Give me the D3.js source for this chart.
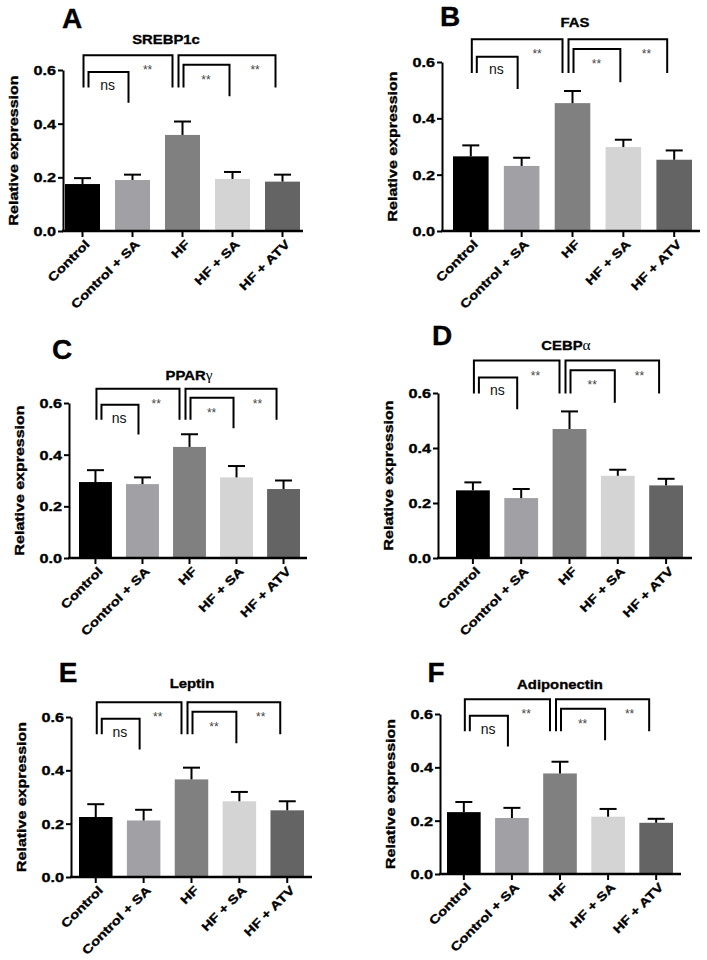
<!DOCTYPE html>
<html>
<head>
<meta charset="utf-8">
<script src="https://cdn.jsdelivr.net/npm/d3@7"></script>
<style>
  body { margin: 0; background: #fff; }
  svg text { font-family: "Liberation Sans", Arial, sans-serif; }
</style>
</head>
<body>
<svg id="fig" width="707" height="960"></svg>
<script>
// groups on the x axis
var groups = ["Control", "Control + SA", "HF", "HF + SA", "HF + ATV"]
var panelLetters = ["A", "B", "C", "D", "E", "F"]
var geneNames = ["SREBP1c", "FAS", "PPAR", "CEBP", "Leptin", "Adiponectin"]
var geneGreek = ["", "", "\u03b3", "\u03b1", "", ""]

// mean relative expression, one row per panel
var meanValues = [
    [0.175, 0.190, 0.358, 0.194, 0.184],
    [0.265, 0.231, 0.454, 0.298, 0.253],
    [0.294, 0.286, 0.430, 0.312, 0.267],
    [0.246, 0.218, 0.469, 0.299, 0.264],
    [0.225, 0.212, 0.366, 0.284, 0.250],
    [0.232, 0.210, 0.377, 0.215, 0.192]
]
// upper error (SEM)
var semValues = [
    [0.022, 0.020, 0.050, 0.026, 0.026],
    [0.039, 0.029, 0.043, 0.026, 0.033],
    [0.046, 0.026, 0.049, 0.044, 0.033],
    [0.029, 0.033, 0.064, 0.022, 0.024],
    [0.048, 0.040, 0.044, 0.035, 0.034],
    [0.038, 0.038, 0.044, 0.029, 0.015]
]
var yTicks = [0, 0.2, 0.4, 0.6]
var yTickLabels = ["0.0", "0.2", "0.4", "0.6"]
// [from group, to group, label]
var comparisons = [[0, 2, "**"], [0, 1, "ns"], [2, 4, "**"], [2, 3, "**"]]

var barColors = ["#000000", "#a0a0a5", "#808080", "#d4d4d4", "#646464"]

// where each panel sits on the page
var frames = [
    {axisX: 63, axisEnd: 303, yZero: 231, yTop: 70, barL: 65, barR: 300, letter: [72, 28], title: [166, 39], shift: 0},
    {axisX: 442, axisEnd: 700, yZero: 231, yTop: 62, barL: 453, barR: 692, letter: [450, 26], title: [575, 22], shift: 0.026},
    {axisX: 69, axisEnd: 307, yZero: 558, yTop: 403, barL: 79, barR: 300, letter: [62, 359], title: [189, 375], shift: 0},
    {axisX: 438, axisEnd: 692, yZero: 558, yTop: 393, barL: 456, barR: 683, letter: [442, 345], title: [566, 345], shift: 0.063},
    {axisX: 71, axisEnd: 312, yZero: 877, yTop: 717, barL: 79, barR: 304, letter: [68, 682], title: [192, 683], shift: 0},
    {axisX: 440, axisEnd: 681, yZero: 874, yTop: 714, barL: 447, barR: 673, letter: [436, 682], title: [560, 684], shift: 0}
]
// bracket shape per comparison (levels in data units, offsets in px)
var bracketGeom = [
    {top: 0.655, legL: 0.535, legR: 0.535, dxL: 1, dxR: -10, frac: 0.72, dy: 12.5},
    {top: 0.593, legL: 0.535, legR: 0.478, dxL: 6, dxR: -4, frac: 0.48, dy: 14},
    {top: 0.655, legL: 0.535, legR: 0.535, dxL: -4, dxR: -7, frac: 0.79, dy: 12.5},
    {top: 0.620, legL: 0.535, legR: 0.502, dxL: 1, dxR: -3, frac: 0.49, dy: 12.5}
]

var svg = d3.select("#fig")

function boldText(sel, size) {
    // a hairline stroke thickens the bold face a little, like the scanned figure
    sel.style("font-size", size + "px").style("font-weight", "bold")
        .attr("fill", "#000").attr("stroke", "#000").attr("stroke-width", 0.35)
    return sel
}

function drawPanel(p) {
    var f = frames[p]
    var g = svg.append("g").attr("class", "panel")

    var x = d3.scaleBand().domain(groups).range([f.barL, f.barR])
        .paddingInner(0.3).paddingOuter(0)
    var y = d3.scaleLinear().domain([0, 0.6]).range([f.yZero, f.yTop])

    var rows = groups.map(function(gr, i) {
        return {group: gr, mean: meanValues[p][i], sem: semValues[p][i], color: barColors[i]}
    })

    // bars
    g.selectAll("rect.bar").data(rows).enter().append("rect")
        .attr("class", "bar")
        .attr("x", function(d) { return x(d.group) })
        .attr("width", x.bandwidth())
        .attr("y", function(d) { return y(d.mean) })
        .attr("height", function(d) { return y(0) - y(d.mean) })
        .attr("fill", function(d) { return d.color })

    // error bars (upper only)
    var eb = g.selectAll("g.err").data(rows).enter().append("g").attr("class", "err")
        .attr("stroke", "#000").attr("stroke-width", 2)
    eb.append("line")
        .attr("x1", function(d) { return x(d.group) + x.bandwidth() / 2 })
        .attr("x2", function(d) { return x(d.group) + x.bandwidth() / 2 })
        .attr("y1", function(d) { return y(d.mean) })
        .attr("y2", function(d) { return y(d.mean + d.sem) })
    eb.append("line")
        .attr("x1", function(d) { return x(d.group) + x.bandwidth() / 2 - 8.5 })
        .attr("x2", function(d) { return x(d.group) + x.bandwidth() / 2 + 8.5 })
        .attr("y1", function(d) { return y(d.mean + d.sem) })
        .attr("y2", function(d) { return y(d.mean + d.sem) })

    // y axis
    var yAxis = g.append("g")
        .attr("transform", "translate(" + f.axisX + ",0)")
        .call(d3.axisLeft(y).tickValues(yTicks).tickSize(5).tickSizeOuter(0)
            .tickFormat(function(d, i) { return yTickLabels[i] }))
    yAxis.select(".domain").attr("stroke-width", 2)
    yAxis.selectAll(".tick line").attr("stroke-width", 2)
    boldText(yAxis.selectAll(".tick text"), 12.5)
        .attr("x", null).attr("dy", null)
        .attr("transform", "translate(-7,4.5) scale(1.3,1)")

    // x axis
    var xAxis = g.append("g")
        .attr("transform", "translate(0," + f.yZero + ")")
        .call(d3.axisBottom(x).tickSize(6).tickSizeOuter(0))
    xAxis.select(".domain").remove()
    xAxis.append("line")
        .attr("x1", f.axisX - 1).attr("x2", f.axisEnd)
        .attr("stroke", "#000").attr("stroke-width", 2.5)
    xAxis.selectAll(".tick line").attr("stroke-width", 2)
    boldText(xAxis.selectAll(".tick text"), 12)
        .attr("y", null).attr("dy", "0.35em")
        .attr("text-anchor", "end")
        .attr("transform", "translate(5,11) rotate(-45) scale(1.25,1)")

    // y axis title
    boldText(g.append("text"), 12)
        .attr("transform", "translate(" + (f.axisX - 45) + "," + ((f.yZero + f.yTop) / 2) + ") rotate(-90) scale(1.33,1)")
        .attr("text-anchor", "middle")
        .text("Relative expression")

    // panel letter and gene title
    boldText(g.append("text"), 28)
        .attr("x", f.letter[0]).attr("y", f.letter[1])
        .attr("text-anchor", "middle")
        .text(panelLetters[p])
    var t = boldText(g.append("text"), 13.5)
        .attr("transform", "translate(" + f.title[0] + "," + (f.title[1] + 4.8) + ") scale(1.1,1)")
        .attr("text-anchor", "middle")
    t.append("tspan").text(geneNames[p])
    if (geneGreek[p]) {
        t.append("tspan")
            .style("font-family", "'Liberation Serif', serif")
            .style("font-weight", "normal")
            .style("font-size", "14px")
            .attr("stroke-width", 0)
            .text(geneGreek[p])
    }

    // significance brackets
    comparisons.forEach(function(c, k) {
        var bg = bracketGeom[k]
        var xl = x(groups[c[0]]) + x.bandwidth() / 2 + bg.dxL
        var xr = x(groups[c[1]]) + x.bandwidth() / 2 + bg.dxR
        var yt = y(bg.top + f.shift)
        g.append("path")
            .attr("d", "M" + xl + "," + y(bg.legL + f.shift) + "V" + yt + "H" + xr + "V" + y(bg.legR + f.shift))
            .attr("fill", "none").attr("stroke", "#000").attr("stroke-width", 2)
        var isNs = c[2] === "ns"
        var fs = isNs ? 14 : 12
        g.append("text")
            .attr("x", xl + (xr - xl) * bg.frac)
            .attr("y", yt + bg.dy + (isNs ? 0.27 : 0.55) * fs)
            .attr("text-anchor", "middle")
            .style("font-size", fs + "px")
            .attr("fill", isNs ? "#111" : "#444")
            .text(c[2])
    })
}

for (var p = 0; p < frames.length; p++) {
    drawPanel(p)
}
</script>
</body>
</html>
